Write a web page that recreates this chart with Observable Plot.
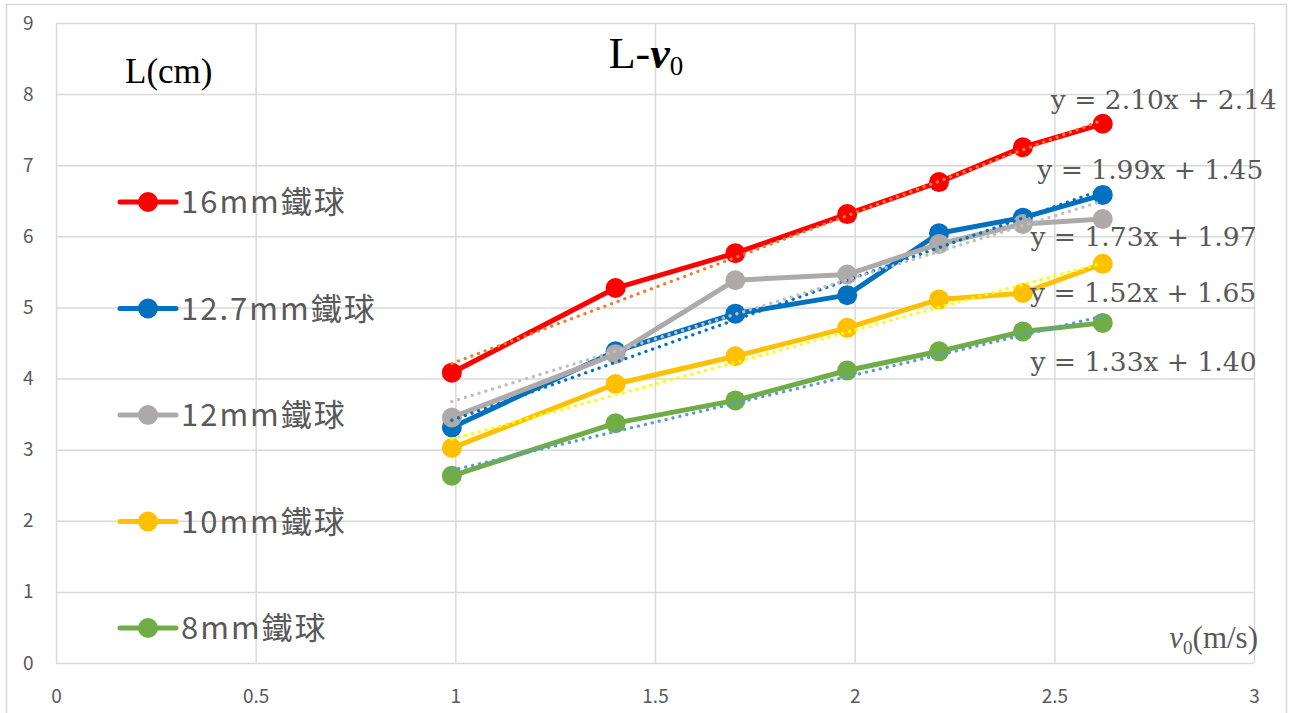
<!DOCTYPE html>
<html>
<head>
<meta charset="utf-8">
<script src="https://cdn.jsdelivr.net/npm/d3@7"></script>
<script src="https://cdn.jsdelivr.net/npm/@observablehq/plot@0.6"></script>
<style>
  html, body { margin: 0; padding: 0; background: #fff; }
  #chart svg { display: block; }
</style>
</head>
<body>
<div id="chart"></div>
<script>
// Launch speed v0 (m/s) shared by every ball size
const speeds = [0.99, 1.40, 1.70, 1.98, 2.21, 2.42, 2.62];

// Ball sizes
const seriesNames = ["16mm鐵球", "12.7mm鐵球", "12mm鐵球", "10mm鐵球", "8mm鐵球"];

// Measured distance L (cm) for each ball
const L16 = [4.09, 5.28, 5.77, 6.32, 6.77, 7.26, 7.59];
const L127 = [3.32, 4.39, 4.92, 5.18, 6.05, 6.27, 6.59];
const L12 = [3.46, 4.35, 5.39, 5.47, 5.90, 6.18, 6.25];
const L10 = [3.03, 3.93, 4.32, 4.72, 5.12, 5.21, 5.62];
const L8 = [2.64, 3.38, 3.70, 4.12, 4.39, 4.67, 4.79];

// Linear trendlines y = slope * x + intercept
const slopes = [2.10, 1.99, 1.73, 1.52, 1.33];
const intercepts = [2.14, 1.45, 1.97, 1.65, 1.40];

// Axis ticks
const xTicks = [0, 0.5, 1, 1.5, 2, 2.5, 3];
const yTicks = [0, 1, 2, 3, 4, 5, 6, 7, 8, 9];

// Where each trendline equation is written (centre, in axis units)
const eqLabelX = [2.773, 2.739, 2.722, 2.721, 2.722];
const eqLabelY = [7.91, 6.93, 5.99, 5.20, 4.23];

// Styling
const seriesColors = ["#FF0000", "#0070C0", "#AEAAAA", "#FFC000", "#70AD47"];
const trendColors = ["#ED7D31", "#0070C0", "#BFBFBF", "#FFFF00", "#5B9BD5"];
const gridColor = "#D9D9D9";
const textGray = "#595959";

const seriesValues = [L16, L127, L12, L10, L8];

const seriesMarks = seriesNames.flatMap((name, i) => {
  const rows = speeds.map((v, j) => ({v, L: seriesValues[i][j]}));
  return [
    Plot.line(rows, {x: "v", y: "L", stroke: seriesColors[i], strokeWidth: 5, strokeLinejoin: "round"}),
    Plot.dot(rows, {x: "v", y: "L", fill: seriesColors[i], r: 10})
  ];
});

const trendMarks = seriesNames.map((name, i) => {
  const ends = [speeds[0], speeds[speeds.length - 1]].map((v) => ({v, L: slopes[i] * v + intercepts[i]}));
  return Plot.line(ends, {
    x: "v", y: "L", stroke: trendColors[i], strokeWidth: 3.3,
    strokeDasharray: "0.1 7", strokeLinecap: "round"
  });
});

const equations = seriesNames.map((name, i) => ({
  text: `y = ${slopes[i].toFixed(2)}x + ${intercepts[i].toFixed(2)}`,
  x: eqLabelX[i],
  y: eqLabelY[i]
}));

const chart = Plot.plot({
  width: 1289,
  height: 713,
  marginLeft: 56,
  marginRight: 35,
  marginTop: 23,
  marginBottom: 50,
  x: {domain: [0, 3]},
  y: {domain: [0, 9]},
  style: {fontFamily: "'Noto Sans CJK TC', 'Noto Sans', sans-serif", background: "#fff"},
  marks: [
    Plot.frame({stroke: gridColor, strokeWidth: 1.5, insetLeft: -50, insetTop: -19, insetRight: -32, insetBottom: -80}),
    Plot.gridX(xTicks, {stroke: gridColor, strokeOpacity: 1, strokeWidth: 1.5}),
    Plot.gridY(yTicks, {stroke: gridColor, strokeOpacity: 1, strokeWidth: 1.5}),
    Plot.axisX(xTicks, {tickSize: 0, tickPadding: 26, fontSize: 19, fill: textGray, label: null, tickFormat: (d) => String(d)}),
    Plot.axisY(yTicks, {tickSize: 0, tickPadding: 23, fontSize: 19, fill: textGray, label: null, tickFormat: (d) => String(d)}),
    ...seriesMarks,
    ...trendMarks,
    Plot.text(equations, {
      x: "x", y: "y", text: "text", fill: textGray, fontSize: 26.5,
      fontFamily: "'DejaVu Serif', serif", textAnchor: "middle", lineAnchor: "middle"
    })
  ]
});

document.getElementById("chart").append(chart);

// Legend, title and axis titles drawn on top of the plot
const svg = d3.select(chart);

const legend = svg.append("g").attr("text-anchor", "start");
seriesNames.forEach((name, i) => {
  const cy = 202 + i * 106.5;
  const g = legend.append("g");
  g.append("line").attr("x1", 120).attr("x2", 176).attr("y1", cy).attr("y2", cy)
    .attr("stroke", seriesColors[i]).attr("stroke-width", 5).attr("stroke-linecap", "round");
  g.append("circle").attr("cx", 148).attr("cy", cy).attr("r", 10).attr("fill", seriesColors[i]);
  g.append("text").attr("x", 181).attr("y", cy + 11).attr("text-anchor", "start")
    .attr("font-family", "'Noto Sans CJK TC', sans-serif").attr("font-size", 31)
    .attr("letter-spacing", 2).attr("fill", textGray).text(name);
});

const title = svg.append("text")
  .attr("x", 646).attr("y", 68).attr("text-anchor", "middle")
  .attr("font-family", "'Liberation Serif', serif").attr("font-size", 44).attr("fill", "#000");
title.append("tspan").text("L-");
title.append("tspan").attr("font-style", "italic").attr("font-weight", "bold").text("v");
title.append("tspan").attr("font-size", 27).attr("dy", 7).text("0");

svg.append("text")
  .attr("x", 125).attr("y", 83).attr("text-anchor", "start")
  .attr("font-family", "'Liberation Serif', serif").attr("font-size", 35).attr("fill", "#000")
  .text("L(cm)");

const xTitle = svg.append("text")
  .attr("x", 1258).attr("y", 648).attr("text-anchor", "end")
  .attr("font-family", "'Liberation Serif', serif").attr("font-size", 31).attr("fill", textGray);
xTitle.append("tspan").attr("font-style", "italic").text("v");
xTitle.append("tspan").attr("font-size", 19).attr("dy", 6).text("0");
xTitle.append("tspan").attr("dy", -6).text("(m/s)");
</script>
</body>
</html>
